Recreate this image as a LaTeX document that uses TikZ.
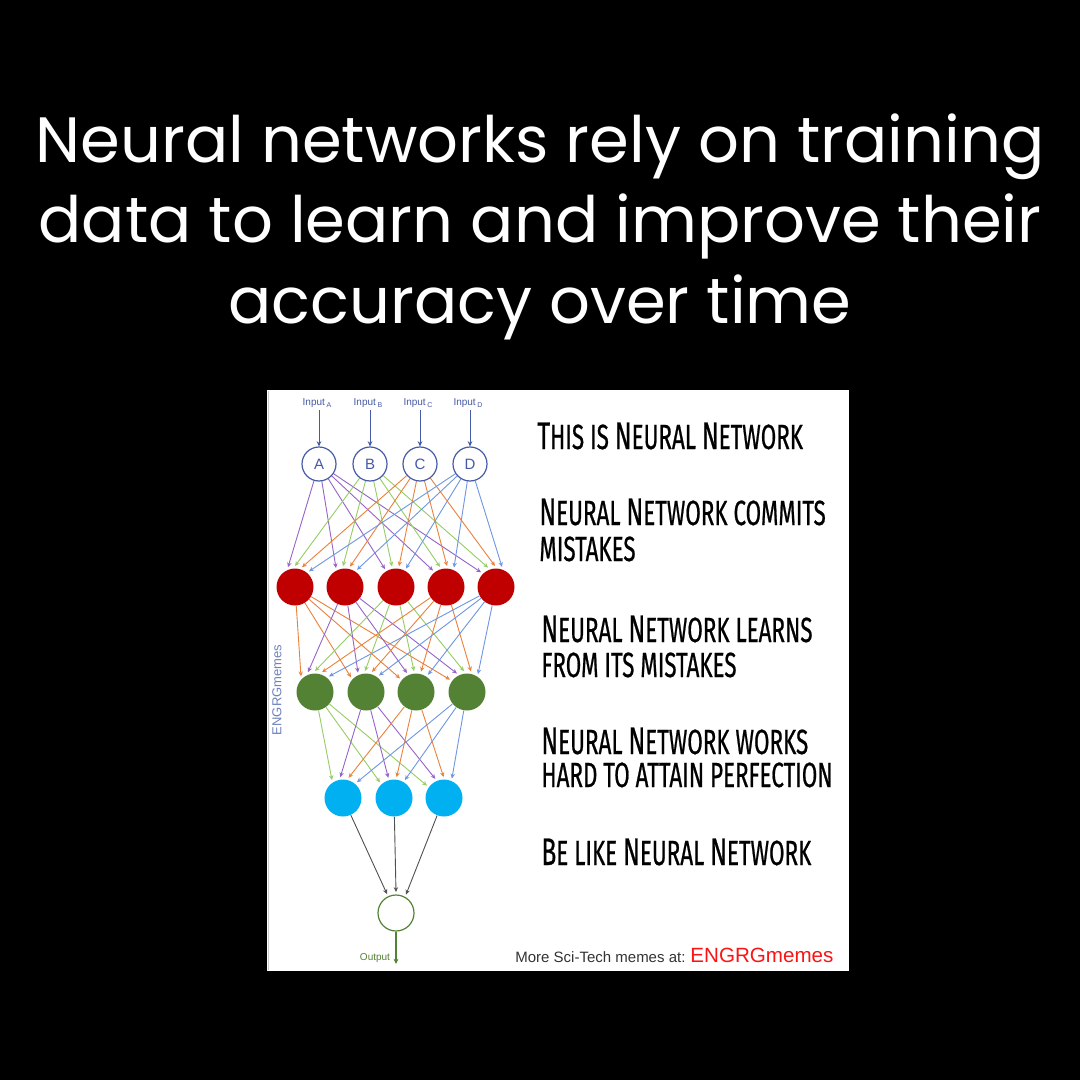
\documentclass[tikz,border=0pt]{standalone}
\usepackage{fontspec}
\setmainfont{Liberation Sans}
\newfontfamily\titlefont{Poppins}
\newfontfamily\comicfont[FakeStretch=0.64,FakeBold=0.6]{Fira Sans}
\usetikzlibrary{arrows.meta,calc}
\pgfdeclarelayer{bg}\pgfdeclarelayer{edges}\pgfsetlayers{bg,edges,main}
\definecolor{epurple}{RGB}{150,100,200}
\definecolor{egreen}{RGB}{150,205,100}
\definecolor{eorange}{RGB}{235,130,60}
\definecolor{eblue}{RGB}{110,150,225}
\definecolor{egray}{RGB}{80,80,80}
\definecolor{nred}{RGB}{192,0,0}
\definecolor{ngreen}{RGB}{84,130,53}
\definecolor{nblue}{RGB}{0,176,240}
\definecolor{inblue}{RGB}{70,90,165}
\definecolor{wmblue}{RGB}{110,130,190}
\definecolor{brandred}{RGB}{250,20,20}
\newcommand{\bigL}[1]{{\fontsize{19.2}{20}\selectfont #1}}
\begin{document}
\begin{tikzpicture}[x=0.5pt,y=-0.5pt,
  titletext/.style={text=white,inner sep=0pt,anchor=base,font=\titlefont\fontsize{32}{38}\selectfont},
  memetext/.style={text=black,inner sep=0pt,anchor=base west,font=\comicfont\fontsize{17.5}{20}\selectfont},
  innode/.style={circle,draw=inblue,line width=0.6pt,fill=white,minimum size=17pt,inner sep=0pt,text=inblue,font=\fontsize{7.5}{9}\selectfont},
  inlabel/.style={text=inblue,inner sep=1pt,font=\fontsize{5}{6}\selectfont},
  rednode/.style={circle,fill=nred,minimum size=18.5pt,inner sep=0pt},
  greennode/.style={circle,fill=ngreen,minimum size=18.5pt,inner sep=0pt},
  bluenode/.style={circle,fill=nblue,minimum size=18.5pt,inner sep=0pt},
  outnode/.style={circle,draw=ngreen,line width=0.6pt,fill=white,minimum size=18pt,inner sep=0pt},
  edge/.style={line width=0.45pt,-{Stealth[length=2.4pt,width=2.2pt]}},
  inarrow/.style={draw=inblue,line width=0.5pt,-{Stealth[length=2.6pt,width=2.4pt]}},
  outarrow/.style={draw=ngreen,line width=0.7pt,-{Stealth[length=2.6pt,width=2.4pt]}}]
\begin{pgfonlayer}{bg}
\fill[black] (0,0) rectangle (1080,1080);
\fill[white] (267,390) rectangle (849,971);
\draw[gray!40,line width=0.6pt] (268.5,391) -- (268.5,970);
\end{pgfonlayer}
\path[use as bounding box] (0,0) rectangle (1080,1080);
% title
\node[titletext] (t1) at (540,163) {Neural networks rely on training};
\node[titletext] (t2) at (540,243) {data to learn and improve their};
\node[titletext] (t3) at (540,323) {accuracy over time};
% input layer
\foreach \k/\x/\s in {1/319/A,2/370/B,3/420/C,4/470/D}{
  \node[innode] (i\k) at (\x,464) {\s};
  \node[inlabel] (l\k) at (\x-2,403) {Input\,\raisebox{-0.35ex}{\fontsize{3.5}{4}\selectfont\s}};
  \draw[inarrow] (l\k.south -| i\k) -- (i\k);
}
\foreach \k/\x in {1/295,2/345,3/396,4/446,5/496} \node[rednode] (r\k) at (\x,587) {};
\foreach \k/\x in {1/315,2/366,3/416,4/467} \node[greennode] (g\k) at (\x,692) {};
\foreach \k/\x in {1/343,2/394,3/444} \node[bluenode] (b\k) at (\x,798) {};
\node[outnode] (o) at (396,913) {};
\coordinate (oend) at (396,964);
\draw[outarrow] (o) -- (oend);
\node[text=ngreen,inner sep=0pt,anchor=base,font=\fontsize{5}{6}\selectfont] (olab) at (375,960) {Output};
% edges
\begin{pgfonlayer}{edges}
\foreach \i/\c in {1/epurple,2/egreen,3/eorange,4/eblue}{
  \foreach \j in {1,...,5}{
    \pgfmathsetmacro\dx{-7+7*(\i-1)-2*(\j-1)}
    \pgfmathsetmacro\dy{-sqrt(441-\dx*\dx)}
    \draw[edge,\c] (i\i) -- ($(r\j)+(\dx,\dy)$);
  }
}
\foreach \i/\c in {1/eorange,2/epurple,3/egreen,4/eorange,5/eblue}{
  \foreach \j in {1,...,4}{
    \pgfmathsetmacro\dx{-14+7*(\i-1)-1*(\j-1)}
    \pgfmathsetmacro\dy{-sqrt(441-\dx*\dx)}
    \draw[edge,\c] (r\i) -- ($(g\j)+(\dx,\dy)$);
  }
}
\foreach \i/\c in {1/egreen,2/epurple,3/eorange,4/eblue}{
  \foreach \j in {1,...,3}{
    \pgfmathsetmacro\dx{-11+8.3*(\i-1)-3*(\j-1)}
    \pgfmathsetmacro\dy{-sqrt(441-\dx*\dx)}
    \draw[edge,\c] (g\i) -- ($(b\j)+(\dx,\dy)$);
  }
}
\foreach \i/\dx in {1/-9,2/0,3/10}{
  \pgfmathsetmacro\dy{-sqrt(441-\dx*\dx)}
  \draw[edge,egray] (b\i) -- ($(o)+(\dx,\dy)$);
}
\end{pgfonlayer}
% watermark
\node[rotate=90,text=wmblue,inner sep=0pt,font=\fontsize{6.5}{8}\selectfont] (wm) at (277,690) {ENGRGmemes};
% meme text
\node[memetext] (m1) at (537,449) {\bigL{T}HIS IS \bigL{N}EURAL \bigL{N}ETWORK};
\node[memetext] (m2) at (539,525) {\bigL{N}EURAL \bigL{N}ETWORK COMMITS};
\node[memetext] (m3) at (539,561) {MISTAKES};
\node[memetext] (m4) at (541,642) {\bigL{N}EURAL \bigL{N}ETWORK LEARNS};
\node[memetext] (m5) at (541,677) {FROM ITS MISTAKES};
\node[memetext] (m6) at (541,754) {\bigL{N}EURAL \bigL{N}ETWORK WORKS};
\node[memetext] (m7) at (541,787) {HARD TO ATTAIN PERFECTION};
\node[memetext] (m8) at (541,865) {\bigL{B}E LIKE \bigL{N}EURAL \bigL{N}ETWORK};
% footer
\node[anchor=base west,inner sep=0pt,text=black!80,font=\fontsize{7.5}{9}\selectfont] (more) at (515,962) {More Sci-Tech memes at:};
\node[anchor=base west,inner sep=0pt,text=brandred,font=\fontsize{10.3}{12}\selectfont] (brand) at (690,962) {ENGRGmemes};
\end{tikzpicture}
\end{document}
